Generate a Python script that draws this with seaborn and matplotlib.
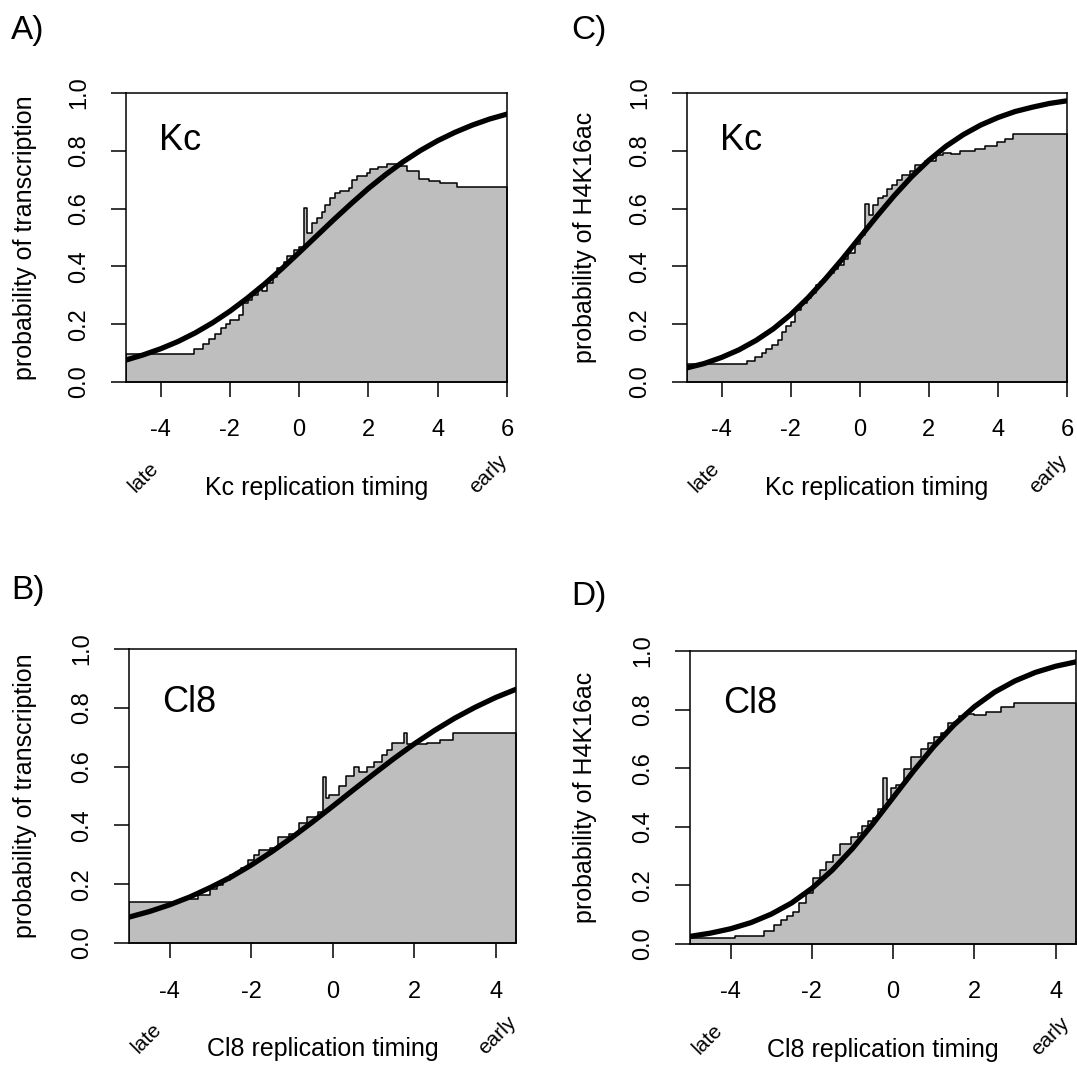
import numpy as np
import pandas as pd
import matplotlib
matplotlib.use("Agg")
import matplotlib.pyplot as plt
import seaborn as sns

# ---- step data: bin edges and probability per bin ----
a_edges = [-5, -3.05, -2.79, -2.60, -2.44, -2.26, -2.12, -1.99, -1.73, -1.61, -1.47,
           -1.35, -1.20, -1.06, -0.92, -0.77, -0.63, -0.45, -0.34, -0.16, 0.0, 0.125,
           0.24, 0.37, 0.51, 0.66, 0.75, 0.90, 1.04, 1.19, 1.43, 1.52, 1.67, 1.96,
           2.05, 2.29, 2.53, 2.82, 3.11, 3.45, 3.74, 4.07, 4.56, 6]
a_prob = [0.097, 0.114, 0.131, 0.148, 0.166, 0.186, 0.201, 0.216, 0.231, 0.272,
          0.284, 0.301, 0.330, 0.316, 0.341, 0.364, 0.393, 0.416, 0.436, 0.457,
          0.466, 0.603, 0.515, 0.549, 0.566, 0.589, 0.612, 0.636, 0.653, 0.662,
          0.671, 0.699, 0.713, 0.722, 0.736, 0.745, 0.754, 0.747, 0.731, 0.701,
          0.696, 0.690, 0.676]

c_edges = [-5, -3.27, -3.03, -2.84, -2.70, -2.53, -2.38, -2.25, -2.12, -2.00, -1.86,
           -1.69, -1.54, -1.42, -1.28, -1.16, -1.01, -0.90, -0.74, -0.63, -0.45,
           -0.34, -0.145, 0.0, 0.145, 0.26, 0.385, 0.53, 0.67, 0.79, 0.93, 1.08,
           1.22, 1.46, 1.61, 1.90, 2.22, 2.41, 2.65, 2.89, 3.33, 3.62, 3.96, 4.20,
           4.44, 6]
c_prob = [0.063, 0.073, 0.085, 0.101, 0.113, 0.128, 0.145, 0.174, 0.194, 0.209,
          0.249, 0.272, 0.290, 0.309, 0.336, 0.347, 0.362, 0.376, 0.390, 0.405,
          0.424, 0.445, 0.478, 0.509, 0.616, 0.578, 0.612, 0.636, 0.645, 0.667,
          0.682, 0.699, 0.716, 0.730, 0.751, 0.766, 0.786, 0.793, 0.789, 0.800,
          0.805, 0.817, 0.832, 0.840, 0.857]

b_edges = [-5, -3.75, -3.30, -3.02, -2.85, -2.69, -2.53, -2.37, -2.24, -2.08, -1.92,
           -1.80, -1.55, -1.35, -1.07, -0.82, -0.62, -0.37, -0.25, -0.17, -0.09,
           0.155, 0.32, 0.52, 0.64, 0.85, 1.01, 1.21, 1.33, 1.46, 1.74, 1.82, 2.31,
           2.63, 2.96, 4.5]
b_prob = [0.141, 0.150, 0.163, 0.183, 0.197, 0.214, 0.231, 0.243, 0.254, 0.282,
          0.299, 0.316, 0.322, 0.362, 0.372, 0.407, 0.430, 0.447, 0.566, 0.492,
          0.504, 0.534, 0.568, 0.600, 0.583, 0.600, 0.617, 0.640, 0.656, 0.681,
          0.713, 0.677, 0.679, 0.690, 0.715]

d_edges = [-5, -3.90, -3.17, -2.94, -2.76, -2.61, -2.47, -2.31, -2.14, -1.98, -1.81,
           -1.65, -1.49, -1.32, -1.04, -0.87, -0.77, -0.63, -0.50, -0.38, -0.26,
           -0.16, -0.05, 0.07, 0.27, 0.45, 0.68, 0.85, 1.01, 1.18, 1.34, 1.50, 1.63,
           1.79, 1.99, 2.28, 2.65, 2.98, 4.5]
d_prob = [0.019, 0.028, 0.046, 0.065, 0.082, 0.096, 0.110, 0.139, 0.173, 0.224,
          0.253, 0.281, 0.304, 0.341, 0.366, 0.378, 0.403, 0.420, 0.429, 0.460,
          0.565, 0.491, 0.531, 0.543, 0.597, 0.639, 0.664, 0.687, 0.708, 0.721,
          0.753, 0.759, 0.778, 0.785, 0.782, 0.793, 0.808, 0.821]

# ---- fitted curves ----
top_curve_x = [-5, -4.5, -4, -3.5, -3, -2.5, -2, -1.5, -1, -0.5, 0, 0.5, 1, 1.5, 2,
               2.5, 3, 3.5, 4, 4.5, 5, 5.5, 6]
a_curve = [0.076, 0.094, 0.115, 0.140, 0.170, 0.205, 0.245, 0.290, 0.339, 0.392,
           0.448, 0.505, 0.562, 0.617, 0.670, 0.718, 0.762, 0.801, 0.835, 0.864,
           0.889, 0.910, 0.927]
c_curve = [0.049, 0.064, 0.085, 0.111, 0.144, 0.184, 0.233, 0.291, 0.356, 0.426,
           0.500, 0.574, 0.645, 0.710, 0.767, 0.816, 0.856, 0.889, 0.915, 0.936,
           0.951, 0.964, 0.973]
bottom_curve_x = [-5, -4.5, -4, -3.5, -3, -2.5, -2, -1.5, -1, -0.5, 0, 0.5, 1, 1.5,
                  2, 2.5, 3, 3.5, 4, 4.5]
b_curve = [0.088, 0.107, 0.130, 0.157, 0.189, 0.224, 0.265, 0.310, 0.359, 0.411,
           0.465, 0.520, 0.574, 0.627, 0.677, 0.723, 0.765, 0.802, 0.835, 0.863]
d_curve = [0.026, 0.037, 0.052, 0.073, 0.102, 0.140, 0.190, 0.252, 0.326, 0.410,
           0.500, 0.590, 0.674, 0.748, 0.810, 0.860, 0.898, 0.927, 0.948, 0.963]

top_xticks = [-4, -2, 0, 2, 4, 6]
bottom_xticks = [-4, -2, 0, 2, 4]
yticks = [0.0, 0.2, 0.4, 0.6, 0.8, 1.0]

W, H = 1077, 1069
FONT = ["Liberation Sans", "DejaVu Sans"]

sns.set_style("ticks")
plt.rcParams.update({
    "font.family": FONT,
    "text.color": "black",
    "axes.edgecolor": "black",
    "xtick.color": "black",
    "ytick.color": "black",
    "axes.linewidth": 1.1,
    "xtick.major.width": 1.1,
    "ytick.major.width": 1.1,
    "xtick.major.size": 11,
    "ytick.major.size": 11,
    "xtick.direction": "out",
    "ytick.direction": "out",
})

fig = plt.figure(figsize=(W / 100, H / 100), dpi=100)
fig.patch.set_facecolor("white")


def box(l, r, t, b):
    return [l / W, 1 - b / H, (r - l) / W, (b - t) / H]


def ftext(x, y, s, **kw):
    fig.text(x / W, 1 - y / H, s, **kw)


panels = [
    dict(rect=box(126, 507, 93, 382), edges=a_edges, prob=a_prob, cx=top_curve_x,
         cy=a_curve, xlim=(-5, 6), xt=top_xticks, tag="A)", tagpos=(11, 30),
         cell="Kc", celly=47, ylabx=25,
         ylab="probability of transcription", xlab="Kc replication timing"),
    dict(rect=box(687, 1067, 93, 382), edges=c_edges, prob=c_prob, cx=top_curve_x,
         cy=c_curve, xlim=(-5, 6), xt=top_xticks, tag="C)", tagpos=(571, 30),
         cell="Kc", celly=47, ylabx=585,
         ylab="probability of H4K16ac", xlab="Kc replication timing"),
    dict(rect=box(129, 516, 649, 943), edges=b_edges, prob=b_prob, cx=bottom_curve_x,
         cy=b_curve, xlim=(-5, 4.5), xt=bottom_xticks, tag="B)", tagpos=(11, 590),
         cell="Cl8", celly=53, ylabx=25,
         ylab="probability of transcription", xlab="Cl8 replication timing"),
    dict(rect=box(690, 1076, 651, 944), edges=d_edges, prob=d_prob, cx=bottom_curve_x,
         cy=d_curve, xlim=(-5, 4.5), xt=bottom_xticks, tag="D)", tagpos=(571, 597),
         cell="Cl8", celly=53, ylabx=585,
         ylab="probability of H4K16ac", xlab="Cl8 replication timing"),
]

for p in panels:
    ax = fig.add_axes(p["rect"])
    edges = list(p["edges"])
    e = np.array(edges)
    df = pd.DataFrame({"x": (e[:-1] + e[1:]) / 2, "p": p["prob"]})
    sns.histplot(data=df, x="x", weights="p", bins=edges, element="step", fill=True,
                 color="#bebebe", edgecolor="black", linewidth=1.1, alpha=1, ax=ax)
    sns.lineplot(x=p["cx"], y=p["cy"], color="black", linewidth=3.8, ax=ax)
    ax.set_xlim(*p["xlim"])
    ax.set_ylim(0, 1)
    ax.set_xticks(p["xt"])
    ax.set_xticklabels([f"{t:d}" for t in p["xt"]], fontsize=17)
    ax.set_yticks(yticks)
    ax.set_yticklabels([f"{t:.1f}" for t in yticks], fontsize=17, rotation=90,
                       va="center")
    ax.tick_params(axis="x", pad=16)
    ax.tick_params(axis="y", pad=15)
    ax.set_xlabel("")
    ax.set_ylabel("")
    for s in ax.spines.values():
        s.set_visible(True)
        s.set_color("black")

    l, b, w, h = p["rect"]
    lpx, rpx = l * W, (l + w) * W
    tpx, bpx = (1 - b - h) * H, (1 - b) * H
    ftext(lpx + 33, tpx + p["celly"], p["cell"], fontsize=26, va="center", ha="left")
    ftext(p["ylabx"], (tpx + bpx) / 2, p["ylab"], fontsize=18, rotation=90,
          ha="center", va="center")
    ftext((lpx + rpx) / 2, bpx + 106, p["xlab"], fontsize=18, ha="center",
          va="center")
    ftext(lpx + 18, bpx + 95, "late", fontsize=15, rotation=45, ha="center",
          va="center")
    ftext(min(rpx - 19, W - 27), bpx + 92, "early", fontsize=15, rotation=45,
          ha="center", va="center")
    ftext(p["tagpos"][0], p["tagpos"][1], p["tag"], fontsize=24, ha="left",
          va="center")

fig.savefig("out.png", dpi=100, facecolor="white")
